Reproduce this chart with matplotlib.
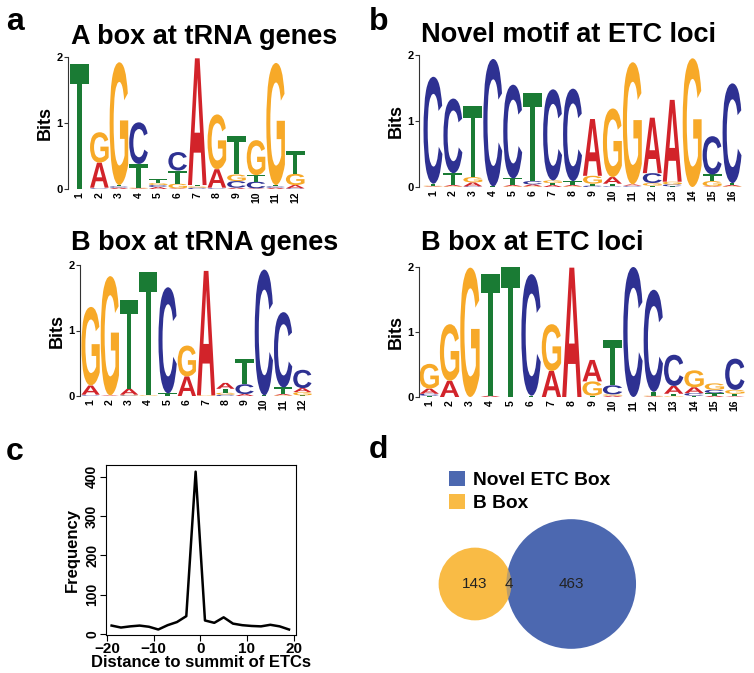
import numpy as np
import matplotlib
matplotlib.use("Agg")
import matplotlib.pyplot as plt
from matplotlib.textpath import TextPath
from matplotlib.font_manager import FontProperties
from matplotlib.patches import PathPatch, Circle, Patch
from matplotlib.transforms import Affine2D

plt.rcParams['font.family'] = ['Liberation Sans', 'DejaVu Sans']

# ---- data ----
letters = ['A', 'C', 'G', 'T']

# A box at tRNA genes (bits per letter, 12 positions)
abox_trna_A = [0.00, 0.38, 0.02, 0.01, 0.03, 0.01, 1.92, 0.28, 0.02, 0.01, 0.02, 0.05]
abox_trna_C = [0.00, 0.01, 0.02, 0.63, 0.03, 0.28, 0.02, 0.01, 0.10, 0.10, 0.02, 0.01]
abox_trna_G = [0.00, 0.46, 1.86, 0.01, 0.03, 0.07, 0.02, 0.83, 0.10, 0.53, 1.85, 0.17]
abox_trna_T = [1.90, 0.01, 0.02, 0.36, 0.06, 0.20, 0.02, 0.01, 0.58, 0.10, 0.02, 0.34]

# Novel motif at ETC loci (16 positions)
novel_A = [0.01, 0.02, 0.06, 0.00, 0.02, 0.03, 0.03, 0.02, 0.86, 0.10, 0.02, 0.84, 1.24, 0.00, 0.01, 0.02]
novel_C = [1.62, 1.13, 0.01, 1.93, 1.42, 0.05, 1.38, 1.40, 0.02, 0.01, 0.01, 0.15, 0.03, 0.00, 0.58, 1.51]
novel_G = [0.01, 0.01, 0.08, 0.00, 0.01, 0.01, 0.04, 0.01, 0.12, 1.04, 1.85, 0.04, 0.04, 1.95, 0.08, 0.01]
novel_T = [0.03, 0.18, 1.07, 0.01, 0.10, 1.34, 0.03, 0.06, 0.03, 0.04, 0.01, 0.02, 0.01, 0.00, 0.10, 0.03]

# B box at tRNA genes (12 positions)
bbox_trna_A = [0.14, 0.01, 0.09, 0.00, 0.00, 0.30, 1.90, 0.09, 0.03, 0.00, 0.02, 0.06]
bbox_trna_C = [0.01, 0.00, 0.01, 0.00, 1.62, 0.00, 0.00, 0.02, 0.15, 1.92, 1.15, 0.28]
bbox_trna_G = [1.20, 1.82, 0.01, 0.01, 0.00, 0.47, 0.01, 0.03, 0.00, 0.00, 0.01, 0.05]
bbox_trna_T = [0.01, 0.00, 1.36, 1.88, 0.04, 0.00, 0.00, 0.06, 0.38, 0.01, 0.10, 0.01]

# B box at ETC loci (16 positions)
bbox_etc_A = [0.08, 0.25, 0.00, 0.02, 0.00, 0.00, 0.40, 1.99, 0.33, 0.02, 0.00, 0.01, 0.12, 0.09, 0.02, 0.01]
bbox_etc_C = [0.03, 0.00, 0.00, 0.00, 0.00, 1.87, 0.00, 0.00, 0.00, 0.14, 2.00, 1.57, 0.48, 0.04, 0.05, 0.48]
bbox_etc_G = [0.38, 0.87, 1.99, 0.00, 0.00, 0.00, 0.72, 0.00, 0.22, 0.02, 0.00, 0.01, 0.01, 0.26, 0.10, 0.06]
bbox_etc_T = [0.02, 0.00, 0.00, 1.88, 2.00, 0.02, 0.00, 0.00, 0.02, 0.69, 0.00, 0.06, 0.04, 0.02, 0.04, 0.04]

# Panel c: motif distance to ETC summit
distance = [-19, -17, -15, -13, -11, -9, -7, -5, -3, -1, 1, 3, 5, 7, 9, 11, 13, 15, 17, 19]
frequency = [21, 16, 19, 21, 18, 11, 22, 30, 45, 413, 34, 28, 42, 26, 22, 20, 19, 23, 19, 11]

# Panel d: Venn counts
venn_labels = ['Novel ETC Box', 'B Box']
only_bbox = 143
shared = 4
only_novel = 463

letter_colors = {'A': '#d2232a', 'C': '#2e3192', 'G': '#f7a928', 'T': '#1a7b34'}
venn_blue = '#4c68b0'
venn_orange = '#f9bb45'

W, H = 754, 673
fig = plt.figure(figsize=(W / 100, H / 100), dpi=100)


def px_axes(x0, y0, x1, y1):
    return fig.add_axes([x0 / W, 1 - y1 / H, (x1 - x0) / W, (y1 - y0) / H])


fp = FontProperties(family='Liberation Sans', weight='bold')
glyphs = {l: TextPath((0, 0), l, size=1, prop=fp) for l in letters}


def draw_logo(ax, heights, xmin):
    n = len(heights['A'])
    for i in range(n):
        col = sorted([(heights[l][i], l) for l in letters])
        y = 0.0
        for h, l in col:
            if h <= 0:
                continue
            path = glyphs[l]
            bb = path.get_extents()
            w = 0.95
            t = (Affine2D().translate(-bb.x0, -bb.y0)
                 .scale(w / bb.width, h / bb.height)
                 .translate(i + 1 - w / 2, y))
            ax.add_patch(PathPatch(t.transform_path(path), fc=letter_colors[l],
                                   ec='none', clip_on=False))
            y += h
    ax.set_xlim(xmin, n + 0.5)
    ax.set_ylim(0, 2)
    for s in ['top', 'right', 'bottom']:
        ax.spines[s].set_visible(False)
    ax.spines['left'].set_linewidth(0.8)
    ax.spines['left'].set_color('#333333')
    ax.set_yticks([0, 1, 2])
    ax.set_yticklabels(['0', '1', '2'], fontsize=8, fontweight='bold')
    ax.tick_params(axis='y', length=3, width=0.8, pad=1, color='#333333')
    ax.set_xticks(range(1, n + 1))
    ax.set_xticklabels([str(k) for k in range(1, n + 1)], rotation=90,
                       fontsize=7.5, fontweight='bold')
    ax.tick_params(axis='x', length=0, pad=2)
    ax.set_ylabel('Bits', fontsize=13, fontweight='bold', labelpad=2)
    ax.patch.set_alpha(0)


title_kw = dict(fontsize=19.5, fontweight='bold', ha='left', va='center')

# panel a: A box
ax1 = px_axes(68, 57, 305, 189)
draw_logo(ax1, {'A': abox_trna_A, 'C': abox_trna_C, 'G': abox_trna_G, 'T': abox_trna_T}, 0.4)
fig.text(71 / W, 1 - 37 / H, 'A box at tRNA genes', **title_kw)

# panel b: novel motif
ax2 = px_axes(419, 55, 742, 187)
draw_logo(ax2, {'A': novel_A, 'C': novel_C, 'G': novel_G, 'T': novel_T}, 0.3)
fig.text(421 / W, 1 - 35 / H, 'Novel motif at ETC loci', **title_kw)

# B box tRNA
ax3 = px_axes(80, 265, 312, 396)
draw_logo(ax3, {'A': bbox_trna_A, 'C': bbox_trna_C, 'G': bbox_trna_G, 'T': bbox_trna_T}, 0.45)
fig.text(71 / W, 1 - 243 / H, 'B box at tRNA genes', **title_kw)

# B box ETC
ax4 = px_axes(419, 267, 745, 397)
draw_logo(ax4, {'A': bbox_etc_A, 'C': bbox_etc_C, 'G': bbox_etc_G, 'T': bbox_etc_T}, 0.5)
fig.text(421 / W, 1 - 243 / H, 'B box at ETC loci', **title_kw)

# panel c
ax5 = px_axes(106, 465, 296, 635)
ax5.plot(distance, frequency, color='black', lw=1.8)
ax5.set_xlim(-20.2, 20.5)
ax5.set_ylim(-3, 430)
ax5.set_xticks([-20, -10, 0, 10, 20])
ax5.set_xticklabels(['\u221220', '\u221210', '0', '10', '20'], fontsize=11, fontweight='bold')
ax5.set_yticks([0, 100, 200, 300, 400])
ax5.set_yticklabels(['0', '100', '200', '300', '400'], fontsize=10, fontweight='bold',
                    rotation=90, va='center')
ax5.tick_params(length=4, width=0.8, pad=1)
for s in ax5.spines.values():
    s.set_linewidth(0.8)
ax5.set_xlabel('Distance to summit of ETCs', fontsize=12, fontweight='bold', labelpad=-1)
ax5.set_ylabel('Frequency', fontsize=12, fontweight='bold', labelpad=4)

# panel d: Venn
ax6 = px_axes(380, 440, 750, 670)
ax6.set_xlim(0, 370)
ax6.set_ylim(0, 230)
ax6.set_aspect('equal')
ax6.axis('off')
k = 3.0
r_b = k * np.sqrt(only_bbox + shared)
r_n = k * np.sqrt(only_novel + shared)
cy = 86
cx_b = 95
cx_n = cx_b + r_b + r_n - 5
c_n = Circle((cx_n, cy), r_n, fc=venn_blue, ec='none')
c_b = Circle((cx_b, cy), r_b, fc=venn_orange, ec='none')
ax6.add_patch(c_n)
ax6.add_patch(c_b)
lens = Circle((cx_n, cy), r_n, fc=venn_blue, ec='none', alpha=0.35)
ax6.add_patch(lens)
lens.set_clip_path(c_b)
x_ov = (cx_n - r_n + cx_b + r_b) / 2
ax6.text(cx_b, cy, str(only_bbox), ha='center', va='center', fontsize=11, color='#222222')
ax6.text(x_ov, cy, str(shared), ha='center', va='center', fontsize=11, color='#222222')
ax6.text(cx_n, cy, str(only_novel), ha='center', va='center', fontsize=11, color='#222222')
handles = [Patch(fc=venn_blue, ec='none'), Patch(fc=venn_orange, ec='none')]
fig.legend(handles, venn_labels, loc='upper left', bbox_to_anchor=(432 / W, 1 - 454 / H),
           frameon=False, handlelength=0.8, handleheight=0.8, handletextpad=0.45,
           labelspacing=0.25, prop={'weight': 'bold', 'size': 13.8})

# panel letters
for lab, x, y in [('a', 6, 22), ('b', 369, 22), ('c', 6, 452), ('d', 369, 450)]:
    fig.text(x / W, 1 - y / H, lab, fontsize=23, fontweight='bold', ha='left', va='center')

fig.savefig('out.png', dpi=100)
